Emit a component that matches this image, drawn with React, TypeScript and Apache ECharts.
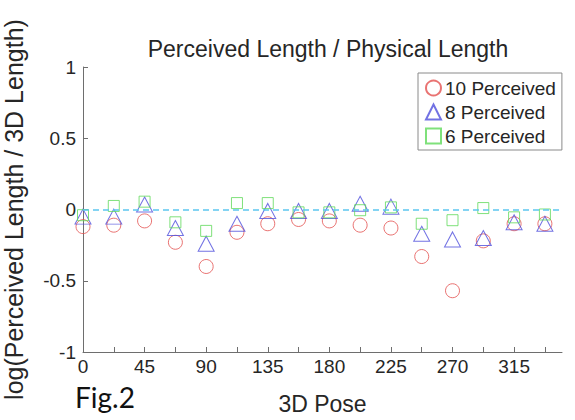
import React, { useEffect, useRef } from "react";
import * as echarts from "echarts";

const poses = [0, 22.5, 45, 67.5, 90, 112.5, 135, 157.5, 180, 202.5, 225, 247.5, 270, 292.5, 315, 337.5];
const perceived10 = [-0.12, -0.11, -0.08, -0.23, -0.40, -0.16, -0.10, -0.07, -0.08, -0.11, -0.13, -0.33, -0.57, -0.22, -0.10, -0.10];
const perceived8 = [-0.05, -0.05, 0.035, -0.13, -0.24, -0.10, -0.01, -0.01, -0.01, 0.04, 0.02, -0.17, -0.21, -0.20, -0.09, -0.10];
const perceived6 = [-0.04, 0.025, 0.055, -0.09, -0.15, 0.045, 0.045, -0.02, -0.02, -0.005, 0.015, -0.10, -0.075, 0.01, -0.055, -0.035];
const seriesNames = ["10 Perceived", "8 Perceived", "6 Perceived"];
const xTickLabels = [0, 45, 90, 135, 180, 225, 270, 315];
const referenceLevel = 0;

const FONT = "'Liberation Sans', Arial, Helvetica, sans-serif";
const AXIS = "#6e6e6e";
const TEXT = "#262626";

export default function App() {
  const ref = useRef<HTMLDivElement>(null);
  useEffect(() => {
    if (!ref.current) return;
    const chart = echarts.init(ref.current, undefined, { renderer: "svg" });
    const pts = (ys: number[]) => poses.map((x, i) => [x, ys[i]]);
    chart.setOption({
      animation: false,
      backgroundColor: "#ffffff",
      textStyle: { fontFamily: FONT },
      title: {
        text: "Perceived Length / Physical Length",
        left: 323,
        textAlign: "center",
        top: 32,
        textStyle: { fontSize: 23, fontWeight: "normal", color: TEXT, fontFamily: FONT },
      },
      legend: {
        orient: "vertical",
        left: 418,
        top: 73,
        padding: [5, 6, 4, 7],
        itemGap: 4,
        itemWidth: 15,
        itemHeight: 15,
        borderColor: "#8a8a8a",
        borderWidth: 1,
        backgroundColor: "#ffffff",
        textStyle: { fontSize: 19, color: TEXT, fontFamily: FONT, lineHeight: 20, padding: [0, 0, 0, -1] },
        data: seriesNames,
      },
      grid: { left: 83, right: 13, top: 67, bottom: 68, containLabel: false, outerBoundsMode: "none" },
      xAxis: {
        type: "value",
        min: 0,
        max: 350,
        interval: 22.5,
        name: "3D Pose",
        nameLocation: "middle",
        nameGap: 40,
        nameTextStyle: { fontSize: 23, color: TEXT, fontFamily: FONT },
        axisLine: { show: true, onZero: false, lineStyle: { color: AXIS, width: 1 } },
        axisTick: { show: true, inside: true, length: 5, lineStyle: { color: AXIS } },
        axisLabel: {
          fontSize: 19,
          color: TEXT,
          margin: 5,
          showMaxLabel: false,
          formatter: (v: number) => (xTickLabels.indexOf(v) >= 0 ? String(v) : ""),
        },
        splitLine: { show: false },
      },
      yAxis: {
        type: "value",
        min: -1,
        max: 1,
        interval: 0.5,
        name: "log(Perceived Length / 3D Length)",
        nameLocation: "middle",
        nameRotate: 90,
        nameGap: 57,
        nameTextStyle: { fontSize: 25, color: TEXT, fontFamily: FONT },
        axisLine: { show: true, lineStyle: { color: AXIS, width: 1 } },
        axisTick: { show: true, inside: true, length: 5, lineStyle: { color: AXIS } },
        axisLabel: { fontSize: 19, color: TEXT, margin: 7 },
        splitLine: { show: false },
      },
      graphic: [
        {
          type: "text",
          left: 75,
          top: 383,
          style: { text: "Fig.2", fontSize: 28, fill: "#111111", fontFamily: "Lato, 'Open Sans', sans-serif" },
        },
      ],
      series: [
        {
          type: "scatter",
          name: seriesNames[0],
          data: pts(perceived10),
          symbol: "circle",
          symbolSize: 14,
          itemStyle: { color: "rgba(0,0,0,0)", borderColor: "#e3504f", borderWidth: 1 },
          markLine: {
            silent: true,
            symbol: "none",
            label: { show: false },
            lineStyle: { color: "#5cc6f0", width: 1.6, type: [6, 4], opacity: 1 },
            emphasis: { disabled: true },
            data: [{ yAxis: referenceLevel }],
          },
          z: 2,
        },
        {
          type: "scatter",
          name: seriesNames[1],
          data: pts(perceived8),
          symbol: "triangle",
          symbolSize: [16, 15],
          itemStyle: { color: "rgba(0,0,0,0)", borderColor: "#4f4fdc", borderWidth: 1 },
          z: 3,
        },
        {
          type: "scatter",
          name: seriesNames[2],
          data: pts(perceived6),
          symbol: "rect",
          symbolSize: 11,
          itemStyle: { color: "rgba(0,0,0,0)", borderColor: "#5fd95a", borderWidth: 1 },
          z: 4,
        },
      ],
    });
    return () => chart.dispose();
  }, []);
  return <div ref={ref} style={{ width: 575, height: 420, position: "absolute", left: 0, top: 0 }} />;
}
